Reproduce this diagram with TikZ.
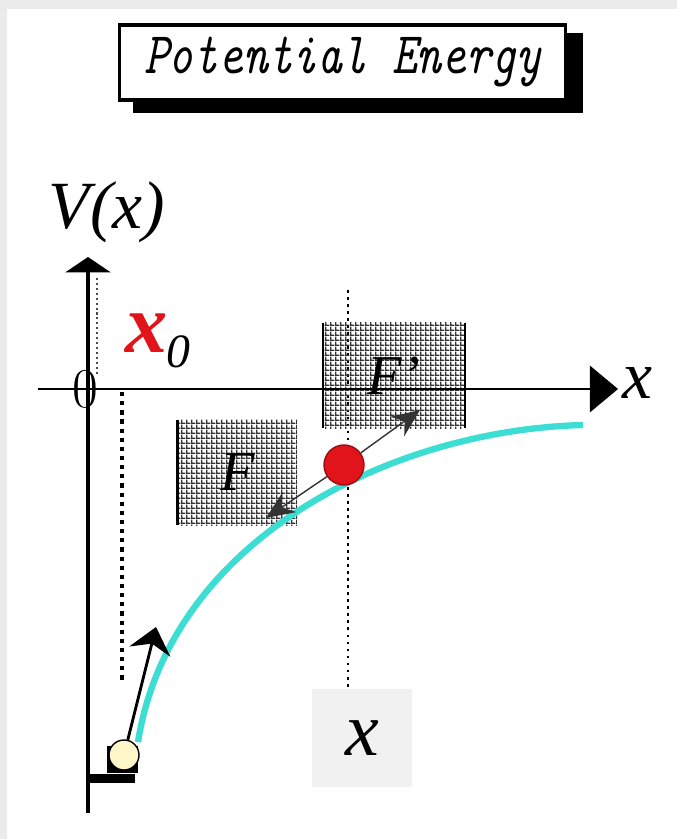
\documentclass[tikz,border=0pt]{standalone}
\usepackage{fontspec}
\newfontfamily\serif{Liberation Serif}
\usepackage{graphicx}
\usepackage{tikz}
\usetikzlibrary{arrows.meta,patterns.meta}
\definecolor{edge}{HTML}{EBEBEB}
\definecolor{wave}{HTML}{3CDDD3}
\definecolor{hot}{HTML}{E0141A}
\definecolor{cream}{HTML}{FFF7C9}
\definecolor{pale}{HTML}{F1F1F1}
\tikzdeclarepattern{name=dotgrid,type=uncolored,
  bounding box={(0pt,0pt) and (3.3pt,3.3pt)},tile size={(3.3pt,3.3pt)},
  code={\pgfpathrectangle{\pgfpointorigin}{\pgfqpoint{3.3pt}{1.1pt}}
        \pgfpathrectangle{\pgfpointorigin}{\pgfqpoint{1.1pt}{3.3pt}}\pgfusepath{fill}}}
\tikzset{
  lab/.style={inner sep=0pt,font=\serif\itshape\fontsize{#1}{#1}\selectfont},
  hatch/.style={postaction={pattern=dotgrid,pattern color=black!80},minimum height=2.625cm,inner sep=0pt},
  ball/.style={circle,draw,line width=1pt,inner sep=0pt,minimum size=1cm},
  force/.style={-{Stealth[length=20pt,width=17pt]},draw=black!80,line width=1pt},
  guide/.style={draw=black,line width=2pt,dash pattern=on 2pt off 3pt},
}
\begin{document}
\begin{tikzpicture}[x=0.025cm,y=-0.025cm]
\useasboundingbox (0,0) rectangle (677,839);
\fill[edge] (0,0) rectangle (677,839);
\fill[white] (7,9) rectangle (677,839);
\fill (133,33) rectangle (583,113);
\node[draw,fill=white,line width=2.2pt,minimum width=11.125cm,minimum height=1.875cm] (title) at (342.5,62.5)
  {\fontsize{42}{42}\selectfont\ttfamily\itshape\scalebox{0.8}[1]{Potential Energy}};
\node[lab=48] (vx) at (107,212) {V(x)};
\draw[guide,line width=1pt,draw=black!70,dash pattern=on 1.5pt off 2pt] (97,278) -- (97,375);
\draw[guide,line width=3pt,dash pattern=on 3pt off 3.5pt] (122,392) -- (122,680);
\draw[guide] (348,290) -- (348,690);
\node[hatch,minimum width=3.55cm,lab=40] (fr) at (394,375.5) {F’};
\node[hatch,minimum width=2.975cm,lab=40] (fl) at (237.5,472.5) {F};
\draw[line width=1.2pt] (fr.north west) -- (fr.south west) (fr.north east) -- (fr.south east);
\draw[line width=2.5pt] (fl.north west) -- (fl.south west);
\draw[line width=3.5pt,-{Triangle[width=32pt,length=11pt]}] (88,813) -- (88,257);
\draw[line width=1.6pt,-{Triangle[width=33pt,length=20pt]}] (38,389) -- (618,389);
\node[inner sep=0pt,font=\fontsize{40}{40}\selectfont] (orig) at (85,389) {0};
\node[lab=48] (xax) at (637,383) {x};
\node[inner sep=0pt,text=hot,font=\serif\bfseries\itshape\fontsize{60}{60}\selectfont] (xz) at (147,333) {x};
\node[lab=34] (xzs) at (178,352) {0};
\node[fill=pale,minimum width=2.475cm,minimum height=2.425cm,lab=54] (xpos) at (362,738) {x};
\draw[wave,line width=4.5pt] (138,742) .. controls (170,540) and (390,430) .. (583,425);
\fill (88,774) rectangle (135,783);
\fill (107,746) rectangle (138,773);
\node[ball,fill=hot,draw=hot!70!black] (pos) at (344,465) {};
\node[ball,fill=cream,minimum size=0.75cm] (rest) at (124,755) {};
\coordinate (tipr) at (420,410);
\coordinate (tipl) at (266,518);
\coordinate (tipu) at (156,627);
\draw[force] (pos) -- (tipr);
\draw[force] (pos) -- (tipl);
\draw[force,draw=black,line width=2pt,-{Stealth[length=18pt,width=30pt]}] (rest) -- (tipu);
\end{tikzpicture}
\end{document}
